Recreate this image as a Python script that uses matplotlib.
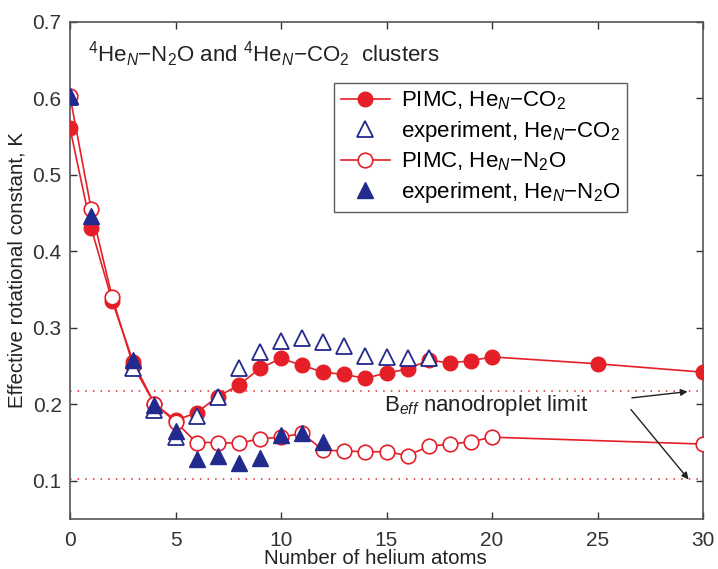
import matplotlib
matplotlib.use("Agg")
import matplotlib.pyplot as plt

plt.rcParams['font.family'] = ['Liberation Sans', 'DejaVu Sans']
plt.rcParams['mathtext.fontset'] = 'custom'
plt.rcParams['mathtext.rm'] = 'Liberation Sans'
plt.rcParams['mathtext.it'] = 'Liberation Sans:italic'
plt.rcParams['mathtext.bf'] = 'Liberation Sans:bold'

# PIMC, He_N-CO2
n_pimc_co2 = [0, 1, 2, 3, 4, 5, 6, 7, 8, 9, 10, 11, 12, 13, 14, 15, 16, 17, 18, 19, 20, 25, 30]
b_pimc_co2 = [0.561, 0.431, 0.335, 0.255, 0.201, 0.179, 0.189, 0.210, 0.225, 0.247, 0.260,
              0.251, 0.242, 0.239, 0.234, 0.241, 0.246, 0.258, 0.254, 0.257, 0.262, 0.253, 0.242]

# experiment, He_N-CO2
n_exp_co2 = [0, 3, 4, 5, 6, 7, 8, 9, 10, 11, 12, 13, 14, 15, 16, 17]
b_exp_co2 = [0.602, 0.248, 0.192, 0.157, 0.185, 0.210, 0.247, 0.268, 0.283, 0.287, 0.281,
             0.276, 0.263, 0.262, 0.261, 0.260]

# PIMC, He_N-N2O
n_pimc_n2o = [0, 1, 2, 3, 4, 5, 6, 7, 8, 9, 10, 11, 12, 13, 14, 15, 16, 17, 18, 19, 20, 30]
b_pimc_n2o = [0.603, 0.456, 0.340, 0.250, 0.201, 0.177, 0.150, 0.150, 0.149, 0.155, 0.157,
              0.162, 0.140, 0.139, 0.138, 0.138, 0.133, 0.145, 0.148, 0.151, 0.157, 0.148]

# experiment, He_N-N2O
n_exp_n2o = [0, 1, 3, 4, 5, 6, 7, 8, 9, 10, 11, 12]
b_exp_n2o = [0.603, 0.446, 0.258, 0.199, 0.165, 0.129, 0.132, 0.123, 0.130, 0.160, 0.163, 0.151]

# nanodroplet limits (CO2, N2O)
droplet_limits = [0.218, 0.102]

RED = '#e51f28'
BLUE = '#232a8e'
TXT = '#222222'

fig = plt.figure(figsize=(7.18, 5.69), dpi=100)
ax = fig.add_axes([70 / 718, 1 - 519 / 569, (703 - 70) / 718, (519 - 22) / 569])

for lim in droplet_limits:
    ax.plot([0, 30], [lim, lim], color=RED, lw=1.1, ls=(0, (1, 4)), zorder=1)

ax.plot(n_pimc_co2, b_pimc_co2, '-o', color=RED, mfc=RED, mec=RED, ms=10.5, lw=1.2,
        label=r'PIMC, He$_{\mathit{N}}$$-$CO$_2$', zorder=3)
ax.plot(n_exp_co2, b_exp_co2, '^', color=BLUE, mfc='white', mec=BLUE, ms=11, mew=1.3, ls='none',
        label=r'experiment, He$_{\mathit{N}}$$-$CO$_2$', zorder=4)
ax.plot(n_pimc_n2o, b_pimc_n2o, '-o', color=RED, mfc='white', mec=RED, ms=10.5, mew=1.2, lw=1.2,
        label=r'PIMC, He$_{\mathit{N}}$$-$N$_2$O', zorder=3)
ax.plot(n_exp_n2o, b_exp_n2o, '^', color=BLUE, mfc=BLUE, mec=BLUE, ms=11, ls='none',
        label=r'experiment, He$_{\mathit{N}}$$-$N$_2$O', zorder=5)

ax.set_xlim(0, 30)
ax.set_ylim(0.05, 0.7)
ax.set_xticks([0, 5, 10, 15, 20, 25, 30])
ax.set_yticks([0.1, 0.2, 0.3, 0.4, 0.5, 0.6, 0.7])
ax.set_yticklabels(['0.1', '0.2', '0.3', '0.4', '0.5', '0.6', '0.7'])
ax.tick_params(direction='in', top=True, right=True, length=5, width=1,
               labelsize=15, colors='#333333')
ax.tick_params(axis='x', pad=9)
ax.tick_params(axis='y', pad=6)
for s in ax.spines.values():
    s.set_color('#555555')
    s.set_linewidth(1.2)

ax.set_xlabel('Number of helium atoms', fontsize=14.8, color=TXT, labelpad=-1)
ax.xaxis.label.set_x(0.482)
ax.set_ylabel('Effective rotational constant, K', fontsize=14.8, color=TXT, labelpad=4)

ax.text(0.028, 0.935,
        r'$^4$He$_{\mathit{N}}$$-$N$_2$O and $^4$He$_{\mathit{N}}$$-$CO$_2$  clusters',
        transform=ax.transAxes, fontsize=16, color=TXT, va='center', ha='left')

leg = ax.legend(loc='upper left', bbox_to_anchor=((334 - 70) / 633, 1 - (83 - 22) / 497),
                fontsize=16, frameon=True, fancybox=False, edgecolor='#333333',
                borderpad=0.3, labelspacing=0.3, handlelength=2.2, handletextpad=0.5,
                borderaxespad=0)
leg.get_frame().set_linewidth(1.0)

ax.text(14.9, 0.198, r'B$_{\mathit{eff}}$ nanodroplet limit', fontsize=16, color=TXT,
        va='center', ha='left')
ax.annotate('', xy=(29.4, 0.217), xytext=(26.5, 0.208),
            arrowprops=dict(arrowstyle='-|>', color=TXT, lw=1.0, mutation_scale=10))
ax.annotate('', xy=(29.4, 0.099), xytext=(26.5, 0.196),
            arrowprops=dict(arrowstyle='-|>', color=TXT, lw=1.0, mutation_scale=10))

fig.savefig('out.png', dpi=100)
